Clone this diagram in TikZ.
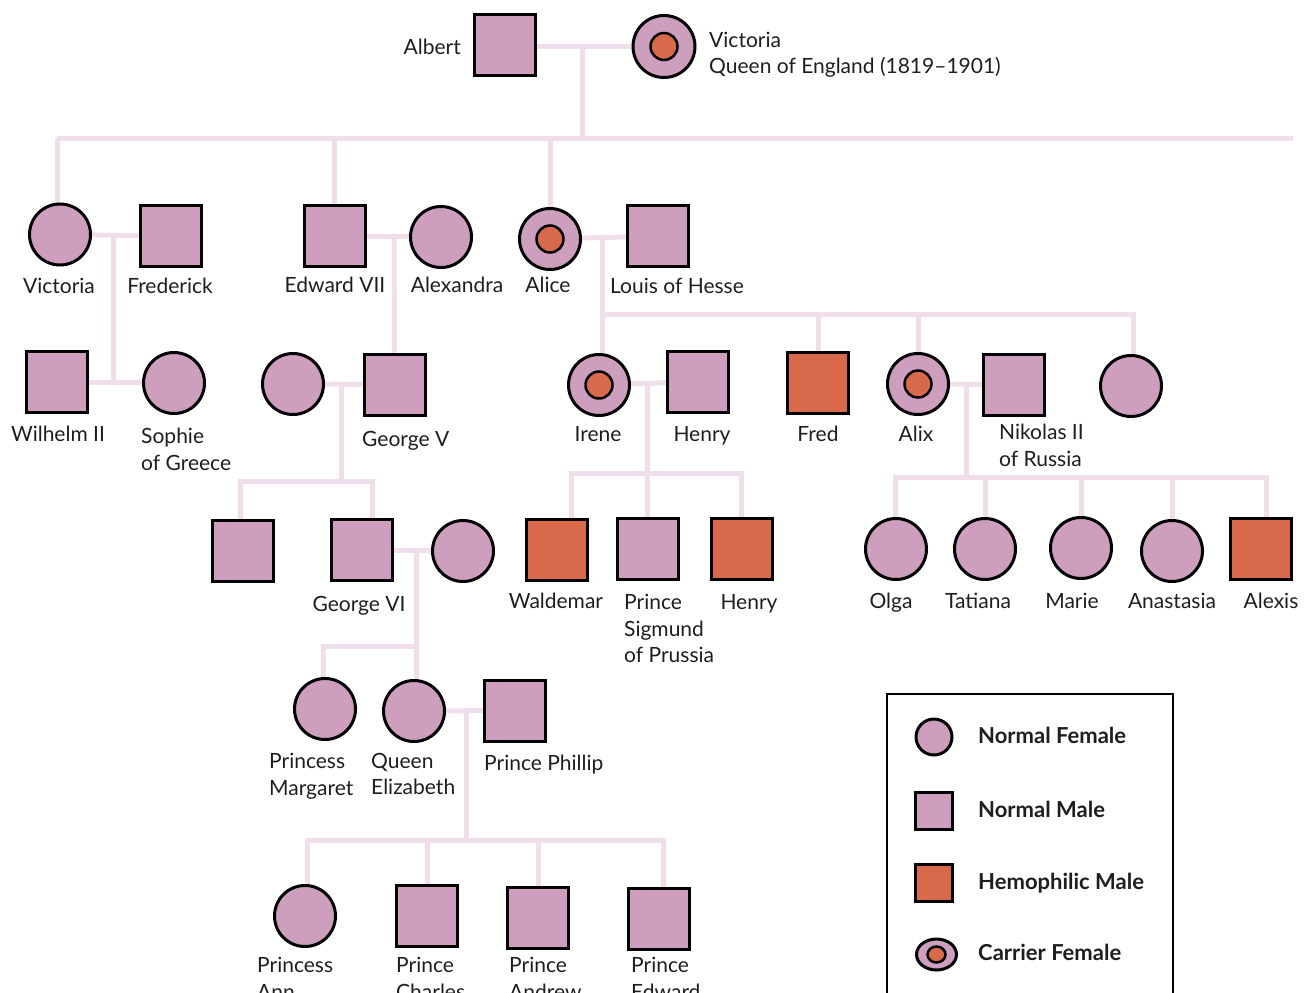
\documentclass[tikz,border=0pt]{standalone}
\usepackage{fontspec}
\setmainfont{Lato}
\usetikzlibrary{backgrounds,shapes.geometric}
\definecolor{mauve}{HTML}{CD9EBE}
\definecolor{rust}{HTML}{D9694B}
\definecolor{linkpink}{HTML}{F0DFEA}
\definecolor{ink}{HTML}{1E1E1E}
\tikzset{
  person/.style={draw=black, line width=3pt, fill=mauve, inner sep=0pt, minimum size=61pt},
  female/.style={person, circle},
  male/.style={person, rectangle},
  hemo/.style={male, fill=rust},
  carrierdot/.style={draw=black, line width=2.5pt, fill=rust},
  link/.style={draw=linkpink, line width=5pt},
  lbl/.style={inner sep=0pt, anchor=north, text=ink, font=\fontsize{21}{26.5}\selectfont},
  llbl/.style={lbl, anchor=north west, align=left},
  keytext/.style={inner sep=0pt, anchor=north west, text=ink, font=\fontsize{22}{28}\selectfont\bfseries},
}
\begin{document}
\begin{tikzpicture}[x=1pt, y=-1pt]
\useasboundingbox (0,0) rectangle (1304,993);

% ---- generation 1
\node[male]   (albert) at (504.5,44.5) {};
\node[female, minimum size=62pt] (queen) at (664,46.5) {};
\draw[carrierdot] (queen.center) circle (13.5pt);

% ---- generation 2
\node[female] (vicd)      at (60,234.5) {};
\node[male]   (frederick) at (170.5,236) {};
\node[male]   (edward7)   at (334.5,236) {};
\node[female] (alexandra) at (441,237) {};
\node[female] (alice)     at (550,239) {};
\draw[carrierdot] (alice.center) circle (13.5pt);
\node[male]   (louis)     at (658,236) {};

% ---- generation 3
\node[male]   (wilhelm) at (56.5,382) {};
\node[female] (sophie)  at (174,383) {};
\node[female] (mary)    at (293,384) {};
\node[male]   (georgeV) at (394.5,384.5) {};
\node[female] (irene)   at (599,385) {};
\draw[carrierdot] (irene.center) circle (13.5pt);
\node[male]   (henry)   at (698,381.5) {};
\node[hemo]   (fredh)   at (818,383) {};
\node[female] (alix)    at (918,384) {};
\draw[carrierdot] (alix.center) circle (13.5pt);
\node[male]   (nikolas) at (1014,384.5) {};
\node[female] (sister)  at (1131,386) {};

% ---- generation 4
\node[male]   (edward8)   at (243,550.5) {};
\node[male]   (george6)   at (362,550) {};
\node[female] (elizQM)    at (463,551) {};
\node[hemo]   (waldemar)  at (556.5,550) {};
\node[male]   (sigmund)   at (647.5,549) {};
\node[hemo]   (henry2)    at (742,549) {};
\node[female] (olga)      at (896,549) {};
\node[female] (tatiana)   at (985,549) {};
\node[female] (marie)     at (1081,548) {};
\node[female] (anastasia) at (1172,551) {};
\node[hemo]   (alexis)    at (1261,549) {};

% ---- generation 5
\node[female] (margaret) at (325,709) {};
\node[female] (queenE)   at (414,711) {};
\node[male]   (phillip)  at (515,710.5) {};

% ---- generation 6
\node[female] (ann)     at (305,916) {};
\node[male]   (charles) at (427,915.5) {};
\node[male]   (andrew)  at (538,917.5) {};
\node[male]   (pedward) at (659,918.5) {};

% ---- family lines
\begin{scope}[on background layer]
  % Albert & Victoria
  \coordinate (j0) at (582,46);
  \coordinate (s0) at (582,138);
  \coordinate (s0l) at (57,138);
  \coordinate (s0r) at (1293,138);
  \draw[link] (albert.east |- j0) -- (j0 -| queen.west);
  \draw[link] (j0) -- (s0);
  \draw[link] (s0l) -- (s0r);
  \draw[link] (s0l) -- (s0l |- vicd.north);
  \draw[link] (edward7.north) -- (edward7.north |- s0);
  \draw[link] (alice.north) -- (alice.north |- s0);
  % Victoria & Frederick
  \coordinate (j1) at (113,234);
  \draw[link] (vicd) -- (frederick);
  \draw[link] (wilhelm) -- (sophie);
  \draw[link] (j1) -- (j1 |- wilhelm);
  % Edward VII & Alexandra
  \coordinate (j2) at (394,235);
  \draw[link] (edward7) -- (alexandra);
  \draw[link] (j2) -- (georgeV.north);
  % George V
  \coordinate (j3) at (341,384);
  \coordinate (s3) at (341,481);
  \coordinate (s3l) at (240,481);
  \coordinate (s3r) at (372,481);
  \draw[link] (mary) -- (georgeV);
  \draw[link] (j3) -- (s3);
  \draw[link] (s3l |- edward8.north) -- (s3l) -- (s3r) -- (s3r |- george6.north);
  % George VI
  \coordinate (j4) at (416,551);
  \coordinate (s4) at (416,646);
  \coordinate (s4l) at (323,646);
  \draw[link] (george6) -- (elizQM);
  \draw[link] (j4) -- (j4 |- queenE.north);
  \draw[link] (s4) -- (s4l) -- (s4l |- margaret.north);
  % Queen Elizabeth & Prince Phillip
  \coordinate (j5) at (466,710);
  \coordinate (s5) at (466,840);
  \coordinate (s5l) at (307,840);
  \coordinate (s5r) at (663,840);
  \draw[link] (queenE) -- (phillip);
  \draw[link] (j5) -- (s5);
  \draw[link] (s5l |- ann.north) -- (s5l) -- (s5r) -- (s5r |- pedward.north);
  \draw[link] (charles.north) -- (charles.north |- s5);
  \draw[link] (andrew.north) -- (andrew.north |- s5);
  % Alice & Louis of Hesse
  \coordinate (j6) at (602,237);
  \coordinate (s6) at (602,314);
  \coordinate (s6r) at (1133,314);
  \draw[link] (alice) -- (louis);
  \draw[link] (j6) -- (j6 |- irene.north);
  \draw[link] (s6) -- (s6r) -- (s6r |- sister.north);
  \draw[link] (fredh.north) -- (fredh.north |- s6);
  \draw[link] (alix.north) -- (alix.north |- s6);
  % Irene & Henry
  \coordinate (j7) at (647,385);
  \coordinate (s7) at (647,473);
  \coordinate (s7l) at (571,473);
  \coordinate (s7r) at (741,473);
  \draw[link] (irene) -- (henry);
  \draw[link] (j7) -- (j7 |- sigmund.north);
  \draw[link] (s7l |- waldemar.north) -- (s7l) -- (s7r) -- (s7r |- henry2.north);
  % Alix & Nikolas II
  \coordinate (j8) at (966,384);
  \coordinate (s8) at (966,477);
  \coordinate (s8l) at (895,477);
  \coordinate (s8r) at (1266,477);
  \draw[link] (alix) -- (nikolas);
  \draw[link] (j8) -- (s8);
  \draw[link] (s8l |- olga.north) -- (s8l) -- (s8r) -- (s8r |- alexis.north);
  \foreach \c in {tatiana, marie, anastasia}
    \draw[link] (\c.north) -- (\c.north |- s8);
\end{scope}

% ---- names
\node[lbl, anchor=north east] (tAlbert) at (461,38.5) {Albert};
\node[llbl] (tQueen) at (709,31.5) {Victoria\\Queen of England (1819–1901)};
\node[lbl] (tVicd)      at (59,278) {Victoria};
\node[lbl] (tFrederick) at (170,278) {Frederick};
\node[lbl] (tEdward7)   at (335,277) {Edward VII};
\node[lbl] (tAlexandra) at (457,277) {Alexandra};
\node[lbl] (tAlice)     at (548,277) {Alice};
\node[llbl] (tLouis)    at (610,278) {Louis of Hesse};
\node[lbl] (tWilhelm)   at (58,426) {Wilhelm II};
\node[llbl] (tSophie)   at (141,428) {Sophie\\of Greece};
\node[llbl] (tGeorgeV)  at (362,431) {George V};
\node[lbl] (tIrene)     at (598,426) {Irene};
\node[lbl] (tHenry)     at (702,426) {Henry};
\node[lbl] (tFred)      at (818,426) {Fred};
\node[lbl] (tAlix)      at (916,426) {Alix};
\node[llbl] (tNikolas)  at (999,424) {Nikolas II\\of Russia};
\node[lbl] (tGeorge6)   at (359,596) {George VI};
\node[lbl] (tWaldemar)  at (556,593) {Waldemar};
\node[llbl] (tSigmund)  at (624,594) {Prince\\Sigmund\\of Prussia};
\node[lbl] (tHenry2)    at (749,594) {Henry};
\node[lbl] (tOlga)      at (891,593) {Olga};
\node[lbl] (tTatiana)   at (978,593) {Tatiana};
\node[lbl] (tMarie)     at (1072,593) {Marie};
\node[lbl] (tAnastasia) at (1172,593) {Anastasia};
\node[lbl] (tAlexis)    at (1271,593) {Alexis};
\node[llbl] (tMargaret) at (269,753) {Princess\\Margaret};
\node[llbl] (tQueenE)   at (371,753) {Queen\\Elizabeth};
\node[llbl] (tPhillip)  at (484,755) {Prince Phillip};
\node[llbl] (tAnn)      at (257,957) {Princess\\Ann};
\node[llbl] (tCharles)  at (396,957) {Prince\\Charles};
\node[llbl] (tAndrew)   at (509,957) {Prince\\Andrew};
\node[llbl] (tPEdward)  at (631,957) {Prince\\Edward};

% ---- legend
\draw[line width=2.5pt] (887,1010) -- (887,694) -- (1173,694) -- (1173,1010);
\node[female, minimum size=36pt] (kF) at (934,737) {};
\node[male, minimum size=37pt]   (kM) at (934,810.5) {};
\node[hemo, minimum size=37pt]   (kH) at (934,882.5) {};
\node[person, ellipse, minimum width=40pt, minimum height=31pt] (kC) at (936.5,954.5) {};
\draw[carrierdot] (kC.center) ellipse (9pt and 8pt);
\node[keytext] (tkF) at (978,727) {Normal Female};
\node[keytext] (tkM) at (978,800.5) {Normal Male};
\node[keytext] (tkH) at (978,872.5) {Hemophilic Male};
\node[keytext] (tkC) at (978,944) {Carrier Female};
\end{tikzpicture}
\end{document}
